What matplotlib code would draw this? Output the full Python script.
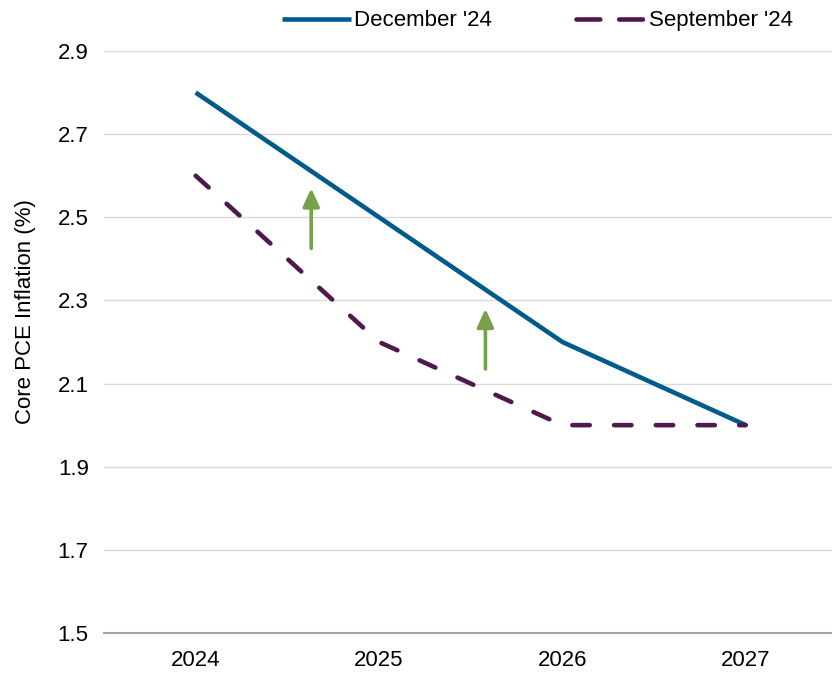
import matplotlib
matplotlib.use("Agg")
from matplotlib import pyplot as plt

plt.rcParams['font.family'] = ['Liberation Sans', 'DejaVu Sans']

# Projections by year
years = ["2024", "2025", "2026", "2027"]
december_24 = [2.8, 2.5, 2.2, 2.0]
september_24 = [2.6, 2.2, 2.0, 2.0]

# Upward revision arrows: (x position, start value, end value)
arrow_x = [0.63, 1.58]
arrow_start = [2.425, 2.135]
arrow_end = [2.57, 2.28]

y_ticks = [1.5, 1.7, 1.9, 2.1, 2.3, 2.5, 2.7, 2.9]

BLUE = "#005A8B"
PURPLE = "#4E1A4C"
GREEN = "#77A04A"

fig = plt.figure(figsize=(8.32, 6.74), dpi=100)
ax = fig.add_axes([104 / 832, 1 - 633 / 674, 728 / 832, (633 - 51) / 674])

x = range(len(years))
ax.plot(x, december_24, color=BLUE, lw=3.3, solid_capstyle='butt', label="December '24", zorder=3)
ax.plot(x, september_24, color=PURPLE, lw=3.3, dashes=(3.8, 5.3), dash_capstyle='round',
        label="September '24", zorder=3)

for xa, y0, y1 in zip(arrow_x, arrow_start, arrow_end):
    ax.annotate("", xy=(xa, y1), xytext=(xa, y0),
                arrowprops=dict(arrowstyle="-|>,head_length=1.1,head_width=0.5",
                                color=GREEN, lw=2.6, shrinkA=0, shrinkB=0))

ax.set_xlim(-0.5, 3.47)
ax.set_ylim(1.5, 2.9)
ax.set_xticks(list(x))
ax.set_xticklabels(years)
ax.set_yticks(y_ticks)
ax.set_yticklabels([f"{v:.1f}" for v in y_ticks])
ax.tick_params(axis='both', length=0, labelsize=16, colors='black')
ax.tick_params(axis='x', pad=12)
ax.tick_params(axis='y', pad=11)

ax.grid(axis='y', color='#D9D9D9', lw=1)
ax.set_axisbelow(True)
for side in ['left', 'right', 'top']:
    ax.spines[side].set_visible(False)
ax.spines['bottom'].set_color('#A6A6A6')
ax.spines['bottom'].set_linewidth(1.5)

ax.set_ylabel("Core PCE Inflation (%)", fontsize=16)
ax.yaxis.set_label_coords(-0.093, 0.552)

leg = ax.legend(loc='upper left', bbox_to_anchor=(0.232, 1.085), ncol=2, frameon=False,
                fontsize=16, handlelength=3.1, handletextpad=0.15, columnspacing=3.8,
                borderaxespad=0)
# legend dashes drawn a little longer than in the plot
leg.get_lines()[1].set_dashes((5.2, 4.1))

fig.savefig("out.png", dpi=100)
